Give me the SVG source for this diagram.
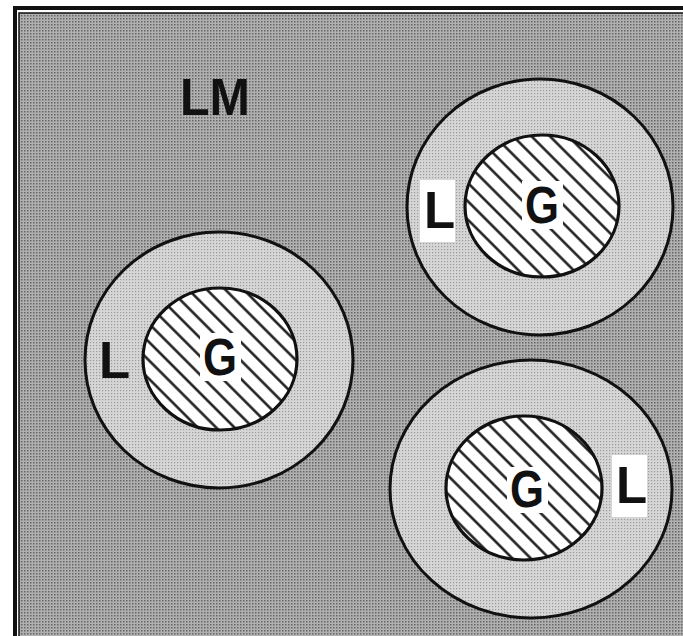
<svg xmlns="http://www.w3.org/2000/svg" width="683" height="636" viewBox="0 0 683 636">
<style>
.lbl{font-family:"Liberation Sans",Arial,sans-serif;font-weight:bold;font-size:51px;fill:#111}
.g{text-anchor:middle}
.ring{fill:url(#ringdots);stroke:#111;stroke-width:3}
.core{fill:url(#hatch);stroke:#111;stroke-width:3.2}
.wbox{fill:#fff}
</style>
<defs>
<pattern id="bgdots" patternUnits="userSpaceOnUse" width="3" height="3">
<rect width="3" height="3" fill="#b0b0b0"/>
<rect x="0" y="0" width="1.5" height="1.5" fill="#666"/>
</pattern>
<pattern id="ringdots" patternUnits="userSpaceOnUse" width="3" height="3">
<rect width="3" height="3" fill="#d6d6d6"/>
<rect x="0" y="0" width="1.2" height="1.2" fill="#999"/>
</pattern>
<pattern id="hatch" patternUnits="userSpaceOnUse" width="13" height="13" patternTransform="rotate(-45)">
<rect width="13" height="13" fill="#fff"/>
<line x1="6.5" y1="0" x2="6.5" y2="13" stroke="#111" stroke-width="2.4"/>
</pattern>
</defs>
<rect x="0" y="0" width="683" height="636" fill="#fff"/>
<g id="frame">
<rect x="19" y="13" width="700" height="660" fill="url(#bgdots)" stroke="#111" stroke-width="1.5"/>
<rect x="15" y="8" width="710" height="670" fill="none" stroke="#111" stroke-width="4"/>
</g>
<g id="LM">
<text class="lbl" x="180" y="115" textLength="70" lengthAdjust="spacingAndGlyphs">LM</text>
</g>
<g id="cell-top-right">
<ellipse class="ring" cx="540" cy="207" rx="133" ry="128"/>
<ellipse class="core" cx="542" cy="206" rx="77" ry="71"/>
<rect class="wbox" x="420" y="180" width="35" height="62"/>
<text class="lbl" x="424" y="228">L</text>
<rect class="wbox" x="522" y="181" width="41" height="48"/>
<text class="lbl g" x="542" y="223" textLength="34" lengthAdjust="spacingAndGlyphs">G</text>
</g>
<g id="cell-left">
<ellipse class="ring" cx="219" cy="360" rx="134" ry="128"/>
<ellipse class="core" cx="220" cy="359" rx="77" ry="71"/>
<text class="lbl" x="99" y="378">L</text>
<rect class="wbox" x="200" y="333" width="41" height="48"/>
<text class="lbl g" x="220" y="375" textLength="34" lengthAdjust="spacingAndGlyphs">G</text>
</g>
<g id="cell-bottom-right">
<ellipse class="ring" cx="531" cy="489" rx="141" ry="129"/>
<ellipse class="core" cx="524" cy="488" rx="78" ry="72"/>
<rect class="wbox" x="612" y="455" width="35" height="62"/>
<text class="lbl" x="616" y="503">L</text>
<rect class="wbox" x="507" y="467" width="41" height="46"/>
<text class="lbl g" x="527" y="507" textLength="34" lengthAdjust="spacingAndGlyphs">G</text>
</g>
</svg>
